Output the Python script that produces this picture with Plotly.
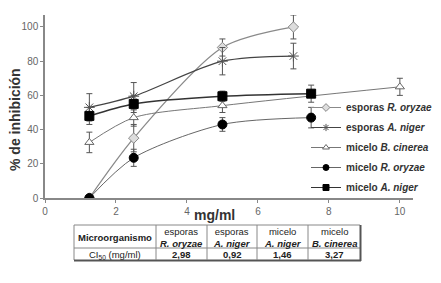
import plotly.graph_objects as go

# ---- data ----
x_esp_ro = [1.25, 2.5, 5, 7]
y_esp_ro = [0, 35, 88, 100]
e_esp_ro = [0, 8, 5, 7]

x_esp_an = [1.25, 2.5, 5, 7]
y_esp_an = [53, 59.5, 80, 83]
e_esp_an = [8, 8, 8, 7.5]

x_mic_bc = [1.25, 2.5, 5, 10]
y_mic_bc = [32.5, 47, 54, 65]
e_mic_bc = [6, 5, 4, 5]

x_mic_ro = [1.25, 2.5, 5, 7.5]
y_mic_ro = [0, 23.5, 43, 47]
e_mic_ro = [0, 5, 4, 6]

x_mic_an = [1.25, 2.5, 5, 7.5]
y_mic_an = [48, 55, 59.5, 61]
e_mic_an = [5, 5, 3, 5]

table_header = ["Microorganismo", "esporas<br><b><i>R. oryzae</i></b>", "esporas<br><b><i>A. niger</i></b>",
                "micelo<br><b><i>A. niger</i></b>", "micelo<br><b><i>B. cinerea</i></b>"]
table_row = ["CI<sub>50</sub> (mg/ml)", "2,98", "0,92", "1,46", "3,27"]

OFF = 8  # page body margin
W, H = 441 - OFF, 283 - OFF
L, R, T, B = 45 - OFF, 441 - 413, 15 - OFF, 283 - 198
pw, ph = W - L - R, H - T - B

def px(x):  # reference pixel x -> paper
    return (x - OFF - L) / pw

def py(y):  # reference pixel y -> paper
    return (H - B - (y - OFF)) / ph

fig = go.Figure()

def add(x, y, e, name, color, symbol, msize, mcolor, mline, lw):
    fig.add_trace(go.Scatter(
        x=x, y=y, name=name, mode="lines+markers", showlegend=False,
        line=dict(color=color, width=lw, shape="spline", smoothing=0.8),
        marker=dict(symbol=symbol, size=msize, color=mcolor, line=dict(color=mline, width=1)),
        error_y=dict(type="data", array=e, color="#555", thickness=1, width=3),
    ))
    fig.add_trace(go.Scatter(
        x=[None], y=[None], name=name, mode="lines+markers", showlegend=True,
        line=dict(color=color, width=1),
        marker=dict(symbol=symbol, size=6, color=mcolor, line=dict(color=mline, width=1)),
        legendgroup=name,
    ))

add(x_esp_ro, y_esp_ro, e_esp_ro, "esporas <i>R. oryzae</i>", "#8a8a8a", "diamond", 8, "#dddddd", "#888", 1.3)
add(x_esp_an, y_esp_an, e_esp_an, "esporas <i>A. niger</i>", "#444444", "asterisk-open", 9, "#555", "#555", 1.3)
add(x_mic_bc, y_mic_bc, e_mic_bc, "micelo <i>B. cinerea</i>", "#777777", "triangle-up", 8, "white", "#666", 1.0)
add(x_mic_ro, y_mic_ro, e_mic_ro, "micelo <i>R. oryzae</i>", "#666666", "circle", 9, "black", "black", 1.0)
add(x_mic_an, y_mic_an, e_mic_an, "micelo <i>A. niger</i>", "#333333", "square", 9, "black", "black", 1.5)

font_family = "Liberation Sans, Arial, sans-serif"

fig.update_layout(
    width=W, height=H,
    margin=dict(l=L, r=R, t=T, b=B, autoexpand=False),
    paper_bgcolor="white", plot_bgcolor="white",
    font=dict(family=font_family, color="#333"),
    showlegend=True,
    legend=dict(x=px(306), y=py(93), xanchor="left", yanchor="top",
                font=dict(size=10, color="#333", weight="bold"),
                bgcolor="rgba(0,0,0,0)", tracegroupgap=1, itemwidth=30),
    xaxis=dict(range=[0, 10.37], tickvals=[0, 2, 4, 6, 8, 10], showgrid=False, zeroline=False,
               showline=True, linecolor="#888", linewidth=1.5, ticks="outside", ticklen=3,
               tickcolor="#888", tickfont=dict(size=10, color="#666"), automargin=False),
    yaxis=dict(range=[0, 107], tickvals=[0, 20, 40, 60, 80, 100], showgrid=False, zeroline=False,
               showline=True, linecolor="#888", linewidth=1.5, ticks="outside", ticklen=3,
               tickcolor="#888", tickfont=dict(size=10, color="#666"), automargin=False),
)

def ann(text, x, y, size, **kw):
    fig.add_annotation(text=text, x=px(x), y=py(y), xref="paper", yref="paper",
                       xanchor="center", yanchor="middle", showarrow=False,
                       font=dict(size=size, color="#333"), **kw)

ann("<b>% de inhibición</b>", 15, 120, 14, textangle=-90)
ann("<b>mg/ml</b>", 214, 215, 14)

# table
cols = [74, 156, 207, 257, 308, 360]
top, mid, bot = 225, 248, 260
lc = "#888"
shapes = []
def line(x0, y0, x1, y1, color=lc, width=1):
    shapes.append(dict(type="line", xref="paper", yref="paper", x0=px(x0), x1=px(x1),
                       y0=py(y0), y1=py(y1), line=dict(color=color, width=width)))
line(cols[0], top, cols[-1], top)
line(cols[0], top, cols[0], bot)
line(cols[0], mid, cols[-1], mid)
line(cols[0], bot + 0.5, cols[-1] + 1, bot + 0.5, "#555", 2)
line(cols[-1] + 0.5, top, cols[-1] + 0.5, bot + 1, "#555", 2)
for c in cols[1:-1]:
    line(c, top, c, bot)
fig.update_layout(shapes=shapes)

for i in range(5):
    cx = (cols[i] + cols[i + 1]) / 2
    htxt = table_header[i] if i > 0 else "<b>" + table_header[i] + "</b>"
    fig.add_annotation(text=htxt, x=px(cx), y=py((top + mid) / 2 + 0.5), xref="paper", yref="paper",
                       xanchor="center", yanchor="middle", showarrow=False,
                       font=dict(size=9.5, color="#222"))
    rtxt = table_row[i] if i == 0 else "<b>" + table_row[i] + "</b>"
    fig.add_annotation(text=rtxt, x=px(cx), y=py((mid + bot) / 2 + 0.5), xref="paper", yref="paper",
                       xanchor="center", yanchor="middle", showarrow=False,
                       font=dict(size=9.5, color="#222"))

fig.write_html("out.html")
